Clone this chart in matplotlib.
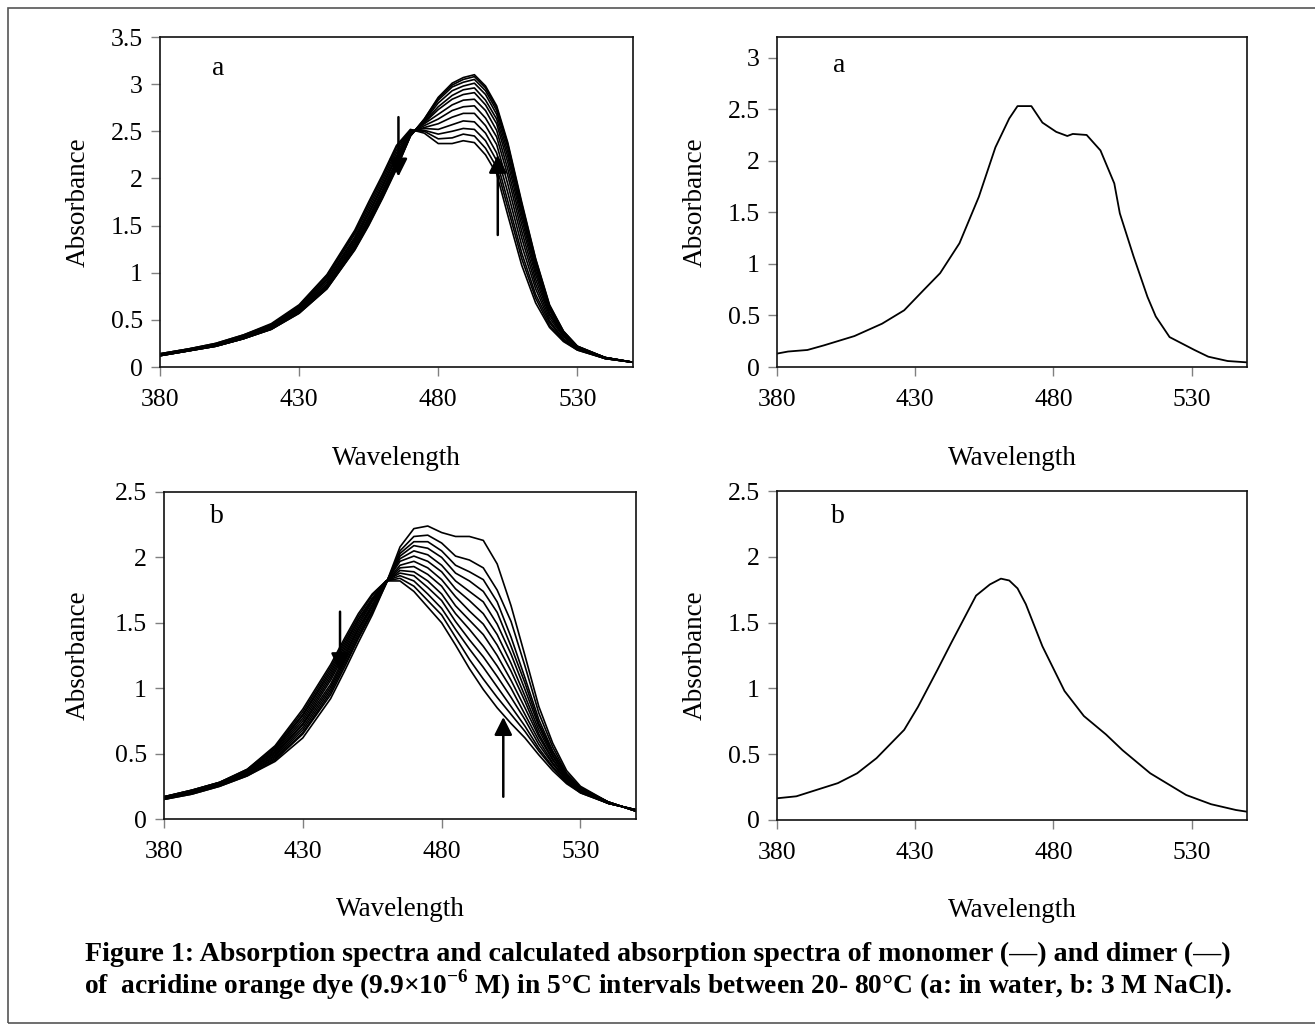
import numpy as np
import matplotlib
matplotlib.use('Agg')
import matplotlib.pyplot as plt
from matplotlib.patches import Rectangle

plt.rcParams['font.family'] = ['Liberation Serif', 'DejaVu Serif']
plt.rcParams['mathtext.fontset'] = 'custom'
plt.rcParams['mathtext.rm'] = 'Liberation Serif'
plt.rcParams['mathtext.bf'] = 'Liberation Serif:bold'

# temperatures of the measured spectra (5 C steps)
temps = [20, 25, 30, 35, 40, 45, 50, 55, 60, 65, 70, 75, 80]

# panel a (water): one row per wavelength, one column per temperature
wl_water = [380, 390, 400, 410, 420, 430, 440, 450, 455, 460, 465, 470, 475, 480,
            485, 489, 493, 497, 501, 505, 510, 515, 520, 525, 530, 540, 550]
water_rows = [
    [.14, .14, .14, .13, .13, .13, .13, .13, .12, .12, .12, .12, .12],
    [.19, .19, .19, .18, .18, .18, .18, .18, .17, .17, .17, .17, .17],
    [.25, .25, .24, .24, .24, .23, .23, .23, .23, .22, .22, .22, .22],
    [.34, .34, .33, .33, .32, .32, .31, .31, .31, .30, .30, .30, .30],
    [.46, .45, .45, .44, .43, .43, .42, .42, .41, .41, .40, .40, .40],
    [.66, .65, .64, .63, .62, .61, .60, .59, .59, .58, .58, .57, .57],
    [.98, .97, .95, .93, .92, .90, .88, .87, .86, .85, .84, .83, .83],
    [1.45, 1.43, 1.41, 1.38, 1.36, 1.34, 1.32, 1.30, 1.28, 1.27, 1.25, 1.25, 1.24],
    [1.75, 1.73, 1.70, 1.67, 1.64, 1.62, 1.59, 1.57, 1.55, 1.53, 1.52, 1.51, 1.50],
    [2.04, 2.02, 1.99, 1.96, 1.93, 1.91, 1.88, 1.86, 1.84, 1.82, 1.81, 1.80, 1.79],
    [2.35, 2.33, 2.30, 2.27, 2.24, 2.22, 2.19, 2.17, 2.15, 2.13, 2.12, 2.11, 2.10],
    [2.52, 2.51, 2.51, 2.50, 2.49, 2.48, 2.48, 2.47, 2.46, 2.46, 2.45, 2.45, 2.45],
    [2.48, 2.50, 2.51, 2.53, 2.54, 2.56, 2.58, 2.59, 2.60, 2.61, 2.62, 2.63, 2.63],
    [2.37, 2.42, 2.47, 2.52, 2.58, 2.63, 2.68, 2.73, 2.76, 2.80, 2.83, 2.85, 2.86],
    [2.37, 2.43, 2.50, 2.57, 2.65, 2.72, 2.78, 2.84, 2.88, 2.93, 2.97, 2.99, 3.01],
    [2.40, 2.47, 2.53, 2.61, 2.69, 2.76, 2.83, 2.89, 2.94, 2.98, 3.02, 3.05, 3.07],
    [2.38, 2.45, 2.52, 2.60, 2.69, 2.77, 2.84, 2.91, 2.96, 3.01, 3.05, 3.08, 3.10],
    [2.25, 2.32, 2.40, 2.48, 2.56, 2.64, 2.72, 2.78, 2.83, 2.89, 2.93, 2.96, 2.98],
    [2.05, 2.12, 2.19, 2.27, 2.36, 2.44, 2.51, 2.58, 2.63, 2.68, 2.72, 2.75, 2.77],
    [1.61, 1.69, 1.76, 1.85, 1.94, 2.03, 2.10, 2.17, 2.23, 2.28, 2.33, 2.36, 2.38],
    [1.08, 1.15, 1.21, 1.29, 1.37, 1.44, 1.51, 1.57, 1.62, 1.66, 1.70, 1.73, 1.75],
    [.68, .73, .77, .83, .88, .93, .98, 1.02, 1.06, 1.09, 1.12, 1.14, 1.15],
    [.42, .44, .47, .49, .52, .55, .57, .60, .61, .63, .64, .65, .66],
    [.27, .28, .29, .30, .32, .33, .34, .35, .36, .37, .37, .38, .38],
    [.18, .18, .19, .19, .20, .20, .21, .21, .21, .21, .22, .22, .22],
    [.09, .09, .09, .09, .09, .10, .10, .10, .10, .10, .10, .10, .10],
    [.05, .05, .05, .05, .05, .05, .05, .05, .05, .05, .05, .05, .05],
]

# panel b (3 M NaCl)
wl_nacl = [380, 390, 400, 410, 420, 430, 440, 445, 450, 455, 460, 465, 470, 475,
           480, 485, 490, 495, 500, 505, 510, 515, 520, 525, 530, 540, 550]
nacl_rows = [
    [.17, .17, .17, .17, .16, .16, .16, .16, .16, .16, .15, .15, .15],
    [.22, .22, .22, .21, .21, .21, .21, .20, .20, .20, .20, .19, .19],
    [.28, .28, .28, .27, .27, .27, .27, .26, .26, .26, .26, .25, .25],
    [.38, .38, .37, .37, .36, .36, .36, .35, .35, .34, .34, .33, .33],
    [.56, .55, .54, .53, .52, .51, .50, .49, .48, .47, .46, .45, .44],
    [.84, .82, .80, .79, .77, .75, .73, .72, .70, .68, .66, .65, .62],
    [1.18, 1.16, 1.14, 1.12, 1.10, 1.08, 1.06, 1.03, 1.01, .99, .97, .95, .92],
    [1.38, 1.36, 1.34, 1.32, 1.30, 1.28, 1.26, 1.24, 1.22, 1.20, 1.18, 1.16, 1.13],
    [1.57, 1.55, 1.53, 1.52, 1.50, 1.48, 1.46, 1.45, 1.43, 1.41, 1.39, 1.38, 1.35],
    [1.72, 1.71, 1.69, 1.68, 1.67, 1.66, 1.64, 1.63, 1.62, 1.60, 1.59, 1.58, 1.56],
    [1.82, 1.82, 1.82, 1.82, 1.81, 1.81, 1.81, 1.81, 1.81, 1.81, 1.80, 1.80, 1.80],
    [1.82, 1.84, 1.86, 1.88, 1.90, 1.92, 1.94, 1.97, 1.99, 2.01, 2.03, 2.05, 2.08],
    [1.74, 1.78, 1.82, 1.86, 1.89, 1.93, 1.97, 2.01, 2.05, 2.09, 2.12, 2.16, 2.22],
    [1.62, 1.67, 1.72, 1.77, 1.82, 1.87, 1.92, 1.97, 2.02, 2.07, 2.12, 2.17, 2.24],
    [1.50, 1.56, 1.61, 1.67, 1.72, 1.78, 1.83, 1.89, 1.94, 2.00, 2.05, 2.11, 2.19],
    [1.33, 1.39, 1.45, 1.51, 1.57, 1.63, 1.70, 1.76, 1.82, 1.88, 1.94, 2.01, 2.16],
    [1.15, 1.22, 1.30, 1.37, 1.45, 1.52, 1.59, 1.67, 1.74, 1.82, 1.89, 1.98, 2.16],
    [.99, 1.07, 1.16, 1.24, 1.32, 1.41, 1.49, 1.57, 1.66, 1.74, 1.83, 1.92, 2.13],
    [.85, .93, 1.01, 1.09, 1.17, 1.25, 1.33, 1.41, 1.49, 1.58, 1.66, 1.75, 1.95],
    [.73, .80, .86, .93, 1.00, 1.06, 1.13, 1.19, 1.26, 1.32, 1.39, 1.51, 1.63],
    [.62, .67, .71, .76, .80, .85, .90, .94, .99, 1.04, 1.08, 1.17, 1.25],
    [.49, .52, .54, .57, .60, .63, .65, .68, .71, .73, .76, .81, .86],
    [.37, .39, .40, .42, .43, .45, .46, .48, .49, .51, .52, .55, .58],
    [.27, .28, .28, .29, .30, .31, .31, .32, .33, .34, .34, .35, .37],
    [.20, .20, .21, .21, .21, .22, .22, .23, .23, .23, .24, .24, .25],
    [.12, .12, .12, .12, .12, .12, .12, .13, .13, .13, .13, .13, .13],
    [.07, .07, .07, .07, .07, .07, .07, .06, .06, .06, .06, .06, .06],
]

# calculated spectra (right panels)
wl_calc_a = [380, 384, 391, 397, 408, 418, 426, 433, 439, 446, 453, 459, 464, 467, 472, 476,
             481, 485, 487, 492, 497, 502, 504, 509, 514, 517, 522, 531, 536, 543, 550]
abs_calc_a = [0.13, 0.15, 0.165, 0.21, 0.30, 0.42, 0.55, 0.745, 0.91, 1.20, 1.65, 2.13, 2.41, 2.53,
              2.53, 2.37, 2.28, 2.24, 2.26, 2.25, 2.10, 1.78, 1.49, 1.07, 0.68, 0.49, 0.29, 0.165,
              0.10, 0.058, 0.045]
wl_calc_b = [380, 387, 402, 409, 416, 426, 431, 438, 443, 449, 452, 457, 461, 464, 467, 470,
             476, 484, 491, 499, 505, 515, 528, 537, 546, 550]
abs_calc_b = [0.165, 0.18, 0.28, 0.355, 0.47, 0.685, 0.86, 1.14, 1.345, 1.585, 1.705, 1.79, 1.834,
              1.82, 1.76, 1.64, 1.32, 0.98, 0.79, 0.65, 0.53, 0.355, 0.19, 0.12, 0.076, 0.063]

# arrows: (wavelength, tail, head)
arrows_a = [(465.7, 2.65, 2.02), (501.4, 1.40, 2.25)]
arrows_b = [(443.4, 1.585, 1.13), (502.2, 0.17, 0.78)]

xticks = [380, 430, 480, 530]

W, H = 1315, 1027
fig = plt.figure(figsize=(W / 100, H / 100), dpi=100)


def box(l, t, r, b):
    return [l / W, 1 - b / H, (r - l) / W, (b - t) / H]


def setup(ax, ymax, yticks, letter, lx, ly, ylx, xly):
    ax.set_xlim(380, 550)
    ax.set_ylim(0, ymax)
    ax.set_xticks(xticks)
    ax.set_yticks(yticks)
    ax.set_yticklabels(['%g' % v for v in yticks])
    ax.tick_params(direction='out', length=6.5, width=1.0, color='#808080',
                   labelsize=18.5)
    ax.tick_params(axis='y', pad=6)
    ax.tick_params(axis='x', pad=9)
    for s in ax.spines.values():
        s.set_linewidth(1.2)
        s.set_color('#111111')
    ax.set_xlabel('Wavelength', fontsize=19.5)
    ax.set_ylabel('Absorbance', fontsize=19.5)
    ax.xaxis.set_label_coords(0.5, xly)
    ax.xaxis.label.set_va('center')
    ax.yaxis.set_label_coords(ylx, 0.5)
    ax.yaxis.label.set_va('center')
    ax.text(lx, ly, letter, transform=ax.transAxes, fontsize=20,
            ha='center', va='center')


def arrows(ax, arr):
    for x, y0, y1 in arr:
        ax.annotate('', xy=(x, y1), xytext=(x, y0),
                    arrowprops=dict(arrowstyle='-|>,head_length=0.6,head_width=0.3',
                                    lw=1.8, color='k', mutation_scale=18,
                                    shrinkA=0, shrinkB=0))


ax1 = fig.add_axes(box(160, 37, 633, 367))
water = np.array(water_rows).T
for row in water:
    ax1.plot(wl_water, row, color='k', lw=1.2)
arrows(ax1, arrows_a)
setup(ax1, 3.5, [0, 0.5, 1, 1.5, 2, 2.5, 3, 3.5], 'a', 0.123, 0.906, -0.173, -0.276)

ax2 = fig.add_axes(box(777, 37, 1247, 367))
ax2.plot(wl_calc_a, abs_calc_a, color='k', lw=1.3)
setup(ax2, 3.2, [0, 0.5, 1, 1.5, 2, 2.5, 3], 'a', 0.133, 0.915, -0.174, -0.276)

ax3 = fig.add_axes(box(164, 492, 636, 819))
nacl = np.array(nacl_rows).T
for row in nacl:
    ax3.plot(wl_nacl, row, color='k', lw=1.2)
arrows(ax3, arrows_b)
setup(ax3, 2.5, [0, 0.5, 1, 1.5, 2, 2.5], 'b', 0.112, 0.924, -0.182, -0.278)

ax4 = fig.add_axes(box(777, 491, 1247, 820))
ax4.plot(wl_calc_b, abs_calc_b, color='k', lw=1.3)
setup(ax4, 2.5, [0, 0.5, 1, 1.5, 2, 2.5], 'b', 0.130, 0.922, -0.174, -0.274)

# caption
line1 = 'Figure 1: Absorption spectra and calculated absorption spectra of monomer (\u2014) and dimer (\u2014)'
line2 = ('of  acridine orange dye (9.9\u00d710$^{\\mathbf{-6}}$ M) in 5\u00b0C intervals '
         'between 20- 80\u00b0C (a: in water, b: 3 M NaCl).')
fig.text(658 / W, 1 - 954 / H, line1, ha='center', va='center', fontsize=20.2, fontweight='bold')
fig.text(658 / W, 1 - 985 / H, line2, ha='center', va='center', fontsize=19.8, fontweight='bold')

# outer frame
fig.add_artist(Rectangle((8 / W, 1 - 1023 / H), 1.2, (1023 - 8) / H, transform=fig.transFigure,
                         fill=False, edgecolor='#555555', lw=1.2, clip_on=False))

fig.savefig('out.png', dpi=100)
